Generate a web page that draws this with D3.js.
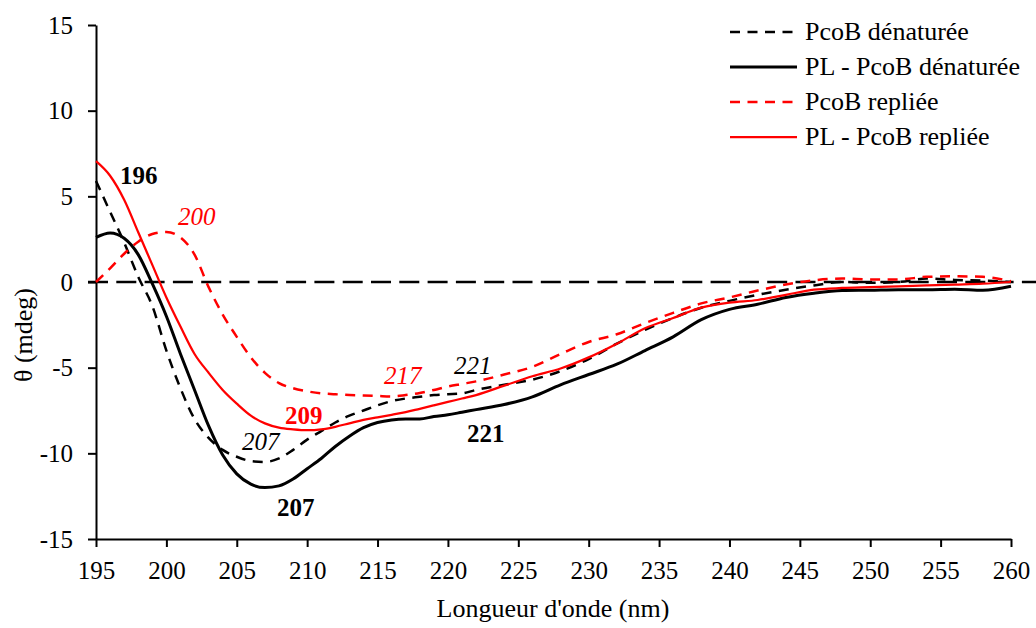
<!DOCTYPE html>
<html>
<head>
<meta charset="utf-8">
<script src="https://cdn.jsdelivr.net/npm/d3@7"></script>
<style>
  body { margin: 0; background: #fff; }
  svg { display: block; }
  svg text { font-family: "Liberation Serif", "Times New Roman", serif; }
</style>
</head>
<body>
<div class="app"></div>
<script>
// wavelengths (nm) shared by the four spectra
var wavelengths = [195,196,197,198,199,200,201,202,203,204,205,206,207,208,209,210,211,212,213,214,215,216,217,218,219,220,221,222,224,226,228,230,232,234,236,238,240,242,244,246,248,250,252,254,256,258,260];

var pcobDenat = [5.9,4.1,2.3,0.3,-1.4,-4.0,-6.2,-8.0,-9.1,-9.8,-10.2,-10.45,-10.5,-10.3,-9.8,-9.2,-8.7,-8.2,-7.8,-7.5,-7.2,-6.95,-6.8,-6.7,-6.6,-6.55,-6.5,-6.3,-6.0,-5.7,-5.2,-4.5,-3.6,-2.8,-2.1,-1.5,-1.1,-0.75,-0.45,-0.2,0.0,-0.05,0.0,0.2,0.12,0.08,0.0];

var plPcobDenat = [2.6,2.86,2.55,1.6,-0.1,-2.0,-4.2,-6.3,-8.4,-10.1,-11.2,-11.8,-12.0,-11.9,-11.5,-10.9,-10.3,-9.6,-9.0,-8.5,-8.2,-8.05,-8.0,-8.0,-7.85,-7.75,-7.6,-7.45,-7.15,-6.7,-6.0,-5.4,-4.8,-4.0,-3.2,-2.2,-1.6,-1.3,-0.9,-0.65,-0.5,-0.48,-0.45,-0.45,-0.42,-0.48,-0.25];

var pcobRepl = [0.0,0.8,1.65,2.35,2.8,2.92,2.6,1.6,-0.3,-1.9,-3.2,-4.4,-5.3,-5.9,-6.2,-6.38,-6.5,-6.55,-6.6,-6.62,-6.65,-6.68,-6.6,-6.48,-6.3,-6.1,-5.95,-5.8,-5.4,-4.95,-4.2,-3.5,-3.05,-2.4,-1.8,-1.25,-0.9,-0.5,-0.15,0.1,0.2,0.15,0.15,0.3,0.33,0.3,0.05];

var plPcobRepl = [7.05,6.2,4.8,2.9,1.0,-0.9,-2.6,-4.2,-5.3,-6.3,-7.1,-7.8,-8.25,-8.5,-8.6,-8.65,-8.6,-8.45,-8.25,-8.05,-7.9,-7.75,-7.6,-7.4,-7.2,-7.0,-6.8,-6.6,-6.05,-5.5,-5.05,-4.4,-3.6,-2.7,-2.1,-1.5,-1.2,-1.05,-0.75,-0.45,-0.35,-0.3,-0.25,-0.2,-0.15,-0.1,0.0];

var seriesNames = ["PcoB dénaturée", "PL - PcoB dénaturée", "PcoB repliée", "PL - PcoB repliée"];
var xTicks = [195,200,205,210,215,220,225,230,235,240,245,250,255,260];
var yTicks = [-15,-10,-5,0,5,10,15];

// peak annotations: label, wavelength, value, which series it belongs to
var noteLabels = ["196", "200", "207", "209", "217", "221", "221", "207"];
var noteNm     = [196.7, 200.83, 205.37, 208.43, 215.46, 220.43, 221.35, 207.86];
var noteVal    = [5.71, 3.31, -9.78, -8.29, -5.98, -5.39, -9.31, -13.63];
var noteSeries = [1, 2, 0, 3, 2, 0, 1, 1];

var W = 1036, H = 628;
var FONT = '"Liberation Serif", "Times New Roman", serif';
var svg = d3.select(".app").append("svg").attr("width", W).attr("height", H);

var x = d3.scaleLinear().domain([195, 260]).range([96, 1011]);
var y = d3.scaleLinear().domain([-15, 15]).range([539, 25]);

var styles = [
  {color: "#000", width: 2.5, dash: "10,7.5"},
  {color: "#000", width: 3, dash: null},
  {color: "#ff0000", width: 2.5, dash: "10,7.5"},
  {color: "#ff0000", width: 2.25, dash: null}
];

// axes (plain hyphen for negatives, like the original)
var fmt = function(d) { return String(d); };
var yAxis = d3.axisLeft(y).tickValues(yTicks).tickFormat(fmt).tickSize(8).tickSizeOuter(0).tickPadding(15);
var xAxis = d3.axisBottom(x).tickValues(xTicks).tickFormat(fmt).tickSize(8).tickSizeOuter(0).tickPadding(14);

function styleAxis(g) {
  g.attr("font-family", FONT).attr("font-size", 25);
  g.select(".domain").attr("stroke", "#000").attr("stroke-width", 2);
  g.selectAll(".tick line").attr("stroke", "#000").attr("stroke-width", 2);
  g.selectAll(".tick text").attr("fill", "#000");
}

svg.append("g").attr("transform", "translate(96,0)").call(yAxis).call(styleAxis);
svg.append("g").attr("transform", "translate(0,539)").call(xAxis).call(styleAxis);

// zero line
svg.append("line")
  .attr("x1", 88).attr("x2", W)
  .attr("y1", y(0)).attr("y2", y(0))
  .attr("stroke", "#000").attr("stroke-width", 2.5)
  .attr("stroke-dasharray", "20,8.3");

// spectra
var allSeries = [pcobDenat, plPcobDenat, pcobRepl, plPcobRepl];
var line = d3.line()
  .x(function(d) { return x(d[0]); })
  .y(function(d) { return y(d[1]); })
  .curve(d3.curveMonotoneX);

allSeries.forEach(function(vals, i) {
  var pts = wavelengths.map(function(w, j) { return [w, vals[j]]; });
  svg.append("path").datum(pts)
    .attr("fill", "none")
    .attr("stroke", styles[i].color)
    .attr("stroke-width", styles[i].width)
    .attr("stroke-dasharray", styles[i].dash)
    .attr("stroke-linejoin", "round")
    .attr("d", line);
});

// annotations: solid-line series get bold, dashed get italic
noteLabels.forEach(function(t, i) {
  var s = noteSeries[i];
  svg.append("text")
    .attr("x", x(noteNm[i])).attr("y", y(noteVal[i]))
    .attr("fill", styles[s].color)
    .attr("font-family", FONT)
    .attr("font-size", 25)
    .attr("font-weight", styles[s].dash ? "normal" : "bold")
    .attr("font-style", styles[s].dash ? "italic" : "normal")
    .text(t);
});

// axis titles
svg.append("text")
  .attr("x", 553).attr("y", 617)
  .attr("text-anchor", "middle").attr("font-family", FONT).attr("font-size", 26)
  .text("Longueur d'onde (nm)");

svg.append("text")
  .attr("transform", "translate(32,335) rotate(-90)")
  .attr("text-anchor", "middle").attr("font-family", FONT).attr("font-size", 26)
  .text("θ (mdeg)");

// legend
var legend = svg.append("g");
seriesNames.forEach(function(name, i) {
  var cy = 32 + i * 35;
  legend.append("line")
    .attr("x1", 730).attr("x2", 797).attr("y1", cy).attr("y2", cy)
    .attr("stroke", styles[i].color).attr("stroke-width", styles[i].width)
    .attr("stroke-dasharray", styles[i].dash);
  legend.append("text")
    .attr("x", 805).attr("y", cy + 8)
    .attr("font-family", FONT).attr("font-size", 26).attr("fill", "#000")
    .text(name);
});
</script>
</body>
</html>
